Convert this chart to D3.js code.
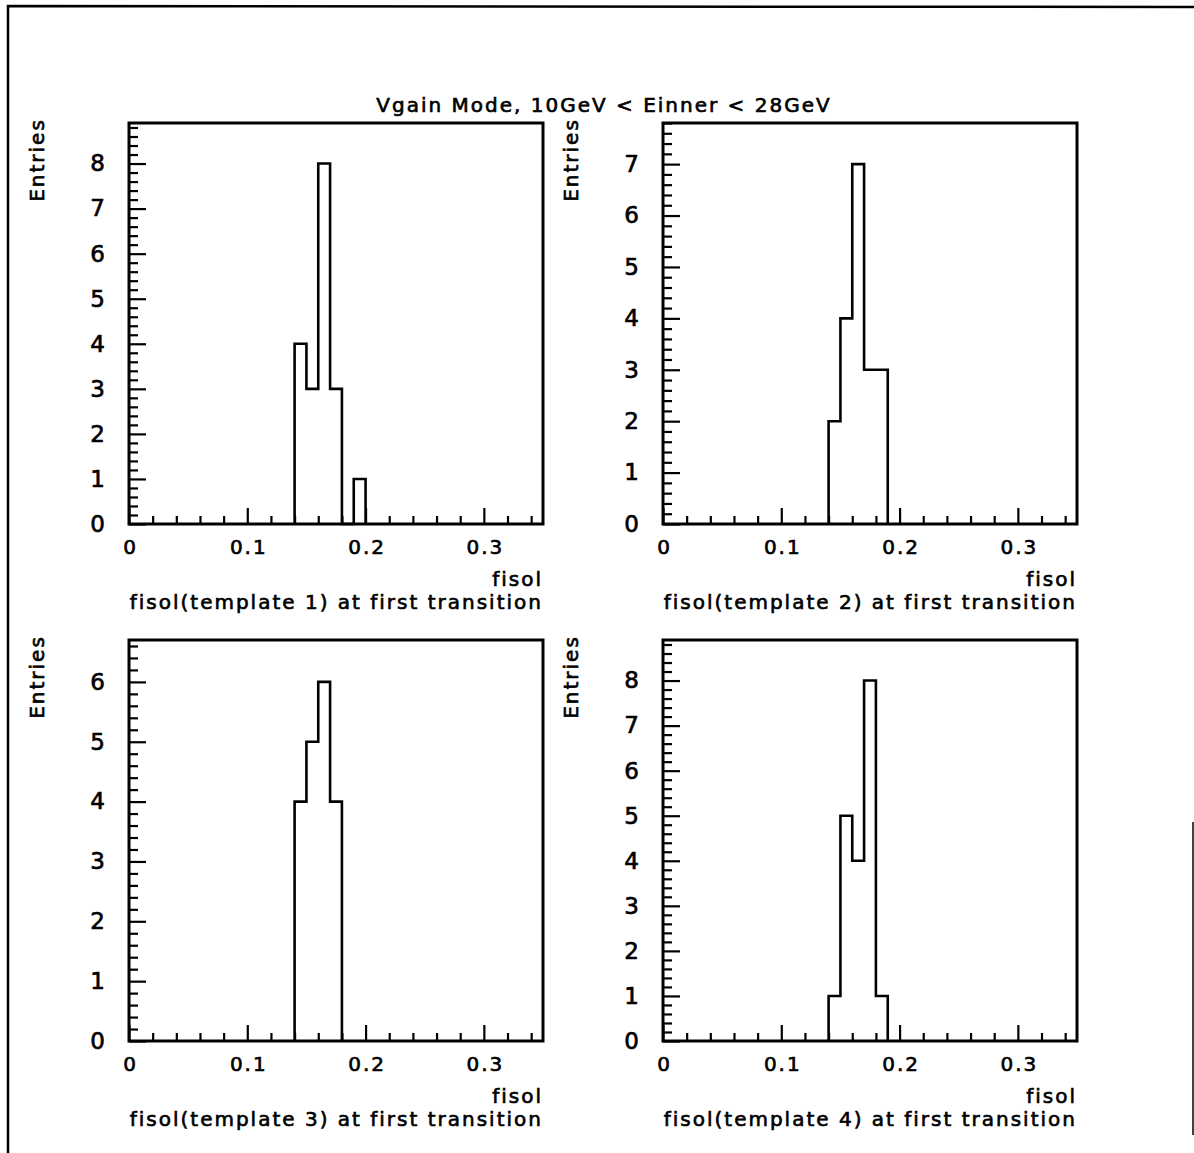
<!DOCTYPE html>
<html>
<head>
<meta charset="utf-8">
<script src="https://cdn.jsdelivr.net/npm/d3@7"></script>
<style>
  html, body { margin: 0; padding: 0; background: #fff; }
  svg { display: block; }
  text { font-family: "DejaVu Sans", sans-serif; fill: #000; stroke: #000; stroke-width: 0.65px; letter-spacing: 2px; }
</style>
</head>
<body>
<svg id="chart" width="1194" height="1153"></svg>
<script>
// Histogram contents: fisol at first transition, one series per template
const pageTitle = "Vgain Mode, 10GeV < Einner < 28GeV";
const templateNames = ["template 1", "template 2", "template 3", "template 4"];
const binStart = 0.14;
const binWidth = 0.01;
const counts1 = [4, 3, 8, 3, 0, 1];
const counts2 = [2, 4, 7, 3, 3];
const counts3 = [4, 5, 6, 4];
const counts4 = [1, 5, 4, 8, 1];
const yMaxes = [8.9, 7.8, 6.7, 8.9];
const xDomain = [0, 0.35];
const xMajorTicks = [0, 0.1, 0.2, 0.3];
const xMinorStep = 0.02;
const yMinorStep = 0.2;
const yLabel = "Entries";
const xLabel = "fisol";

const allCounts = [counts1, counts2, counts3, counts4];

const svg = d3.select("#chart");
const LS = 2; // letter spacing, px

// page frame
svg.append("path")
  .attr("d", "M8,1153 L8,6 L1194,7")
  .attr("fill", "none").attr("stroke", "#000").attr("stroke-width", 2.5);
svg.append("line")
  .attr("x1", 1193).attr("x2", 1193).attr("y1", 822).attr("y2", 1135)
  .attr("stroke", "#000").attr("stroke-width", 1.5);

// title
svg.append("text")
  .attr("x", 603 + LS / 2).attr("y", 112)
  .attr("text-anchor", "middle")
  .attr("font-size", 20)
  .text(pageTitle);

const colX = [129, 663];
const rowY = [123, 640];
const W = 414, H = 401;

allCounts.forEach((counts, i) => {
  const left = colX[i % 2];
  const top = rowY[Math.floor(i / 2)];
  const g = svg.append("g").attr("transform", `translate(${left},${top})`);

  const x = d3.scaleLinear().domain(xDomain).range([0, W]);
  const y = d3.scaleLinear().domain([0, yMaxes[i]]).range([H, 0]);

  // histogram outline
  const edges = d3.range(counts.length + 1).map(k => binStart + k * binWidth);
  const pts = [[edges[0], 0]]
    .concat(counts.map((c, k) => [edges[k], c]))
    .concat([[edges[counts.length], 0]]);
  g.append("path")
    .attr("d", d3.line().x(d => x(d[0])).y(d => y(d[1])).curve(d3.curveStepAfter)(pts))
    .attr("fill", "none").attr("stroke", "#000").attr("stroke-width", 2.6)
    .attr("stroke-linejoin", "miter");

  // minor ticks
  const xMinor = d3.range(xMinorStep, xDomain[1] - 1e-9, xMinorStep)
    .filter(v => Math.abs(v * 10 - Math.round(v * 10)) > 1e-6);
  const yMinor = d3.range(yMinorStep, yMaxes[i] + 1e-9, yMinorStep)
    .filter(v => Math.abs(v - Math.round(v)) > 1e-6);

  g.append("g").attr("transform", `translate(0,${H})`)
    .call(d3.axisBottom(x).tickValues(xMinor).tickSize(-8).tickFormat(""))
    .call(a => a.select(".domain").remove());
  g.append("g")
    .call(d3.axisLeft(y).tickValues(yMinor).tickSize(-9).tickFormat(""))
    .call(a => a.select(".domain").remove());

  // major ticks with labels
  const xAx = g.append("g").attr("transform", `translate(0,${H})`)
    .call(d3.axisBottom(x).tickValues(xMajorTicks).tickSize(-16).tickPadding(16)
      .tickFormat(d => d === 0 ? "0" : String(d)));
  xAx.select(".domain").remove();
  xAx.selectAll("text").attr("font-size", 20).attr("dx", LS / 2)
    .style("font-family", "DejaVu Sans");

  const yTicks = d3.range(0, Math.floor(yMaxes[i]) + 1);
  const yAx = g.append("g")
    .call(d3.axisLeft(y).tickValues(yTicks).tickSize(-17).tickPadding(24)
      .tickFormat(d => String(d)));
  yAx.select(".domain").remove();
  yAx.selectAll("text").attr("font-size", 23)
    .style("letter-spacing", "0px")
    .style("font-family", "DejaVu Sans");

  g.selectAll(".tick line").attr("stroke", "#000").attr("stroke-width", 2.2);

  // frame
  g.append("rect").attr("x", 0).attr("y", 0).attr("width", W).attr("height", H)
    .attr("fill", "none").attr("stroke", "#000").attr("stroke-width", 3);

  // axis titles
  g.append("text")
    .attr("transform", `translate(-92,37) rotate(-90)`)
    .attr("text-anchor", "middle").attr("dy", "0.35em")
    .attr("font-size", 20)
    .text(yLabel);
  g.append("text")
    .attr("x", W - 2 + LS).attr("y", H + 62)
    .attr("text-anchor", "end").attr("font-size", 20)
    .text(xLabel);
  g.append("text")
    .attr("x", W - 2 + LS).attr("y", H + 85)
    .attr("text-anchor", "end").attr("font-size", 20)
    .text(`${xLabel}(${templateNames[i]}) at first transition`);
});
</script>
</body>
</html>
